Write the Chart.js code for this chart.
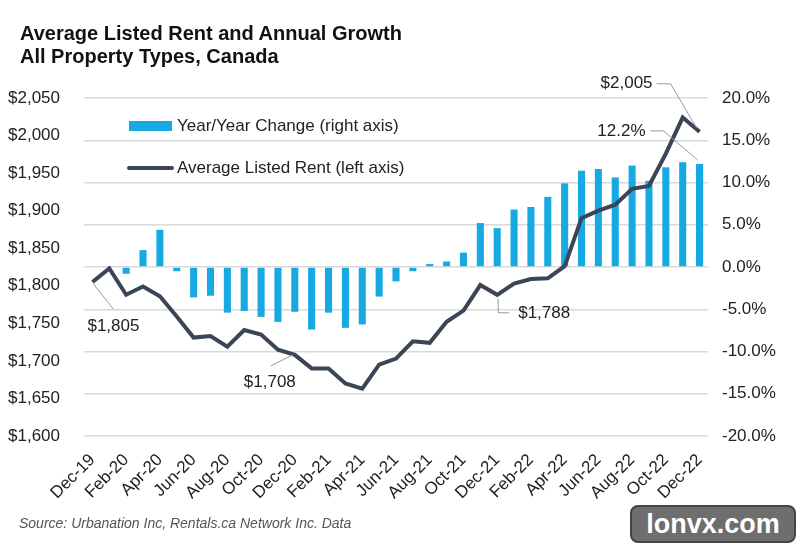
<!DOCTYPE html>
<html>
<head>
<meta charset="utf-8">
<script src="https://cdn.jsdelivr.net/npm/chart.js@4.4.0/dist/chart.umd.min.js"></script>
<style>
  html, body { margin: 0; padding: 0; background: #fff; }
  #wrap { position: relative; width: 800px; height: 546px; font-family: 'Liberation Sans', Arial, sans-serif; }
  #chart { position: absolute; left: 0; top: 0; }
  #title { position: absolute; left: 20px; top: 22px; font-size: 20px; font-weight: bold; line-height: 23px; color: #111; }
  #source { position: absolute; left: 19px; top: 515px; font-size: 14px; font-style: italic; color: #555; }
  #mark { position: absolute; left: 630px; top: 505px; width: 166px; height: 38px; background: #6e6e6e; border: 2px solid #444; border-radius: 8px;
          color: #fff; font: bold 27px 'Liberation Sans', Arial, sans-serif; text-align: center; line-height: 34px; box-sizing: border-box; }
</style>
</head>
<body>
<div id="wrap">
  <canvas id="chart" width="800" height="546"></canvas>
  <div id="title">Average Listed Rent and Annual Growth<br>All Property Types, Canada</div>
  <div id="source">Source: Urbanation Inc, Rentals.ca Network Inc. Data</div>
  <div id="mark">lonvx.com</div>
</div>
<script>
// months Dec-19 .. Dec-22
const months = ['Dec-19', 'Jan-20', 'Feb-20', 'Mar-20', 'Apr-20', 'May-20', 'Jun-20', 'Jul-20', 'Aug-20', 'Sep-20', 'Oct-20', 'Nov-20',
  'Dec-20', 'Jan-21', 'Feb-21', 'Mar-21', 'Apr-21', 'May-21', 'Jun-21', 'Jul-21', 'Aug-21', 'Sep-21', 'Oct-21', 'Nov-21',
  'Dec-21', 'Jan-22', 'Feb-22', 'Mar-22', 'Apr-22', 'May-22', 'Jun-22', 'Jul-22', 'Aug-22', 'Sep-22', 'Oct-22', 'Nov-22', 'Dec-22'];

// average listed rent, $ (left axis)
const rent = [1805, 1823, 1788, 1799, 1786, 1759, 1731, 1733, 1719, 1741, 1735, 1715,
  1708, 1690, 1690, 1670, 1663, 1695, 1703, 1726, 1724, 1752, 1767, 1801,
  1788, 1803, 1809, 1810, 1826, 1890, 1900, 1908, 1929, 1933, 1976, 2024, 2005];

// year/year change, % (right axis)
const yoy = [null, 0.1, -0.8, 2.0, 4.4, -0.5, -3.6, -3.4, -5.4, -5.2, -5.9, -6.5,
  -5.3, -7.4, -5.4, -7.2, -6.8, -3.5, -1.7, -0.5, 0.35, 0.65, 1.7, 5.2,
  4.6, 6.8, 7.1, 8.3, 9.9, 11.4, 11.6, 10.6, 12.0, 10.2, 11.8, 12.4, 12.2];

const rentTicks = { min: 1600, max: 2050, step: 50 };
const pctTicks = { min: -20, max: 20, step: 5 };

const BAR = '#17a9e1';
const LINE = '#3b4556';
const FONT = "'Liberation Sans', Arial, sans-serif";

const money = v => '$' + v.toLocaleString('en-US');

// callouts: [dataset, index, text]
const callouts = [
  ['rent', 0, money(rent[0])],
  ['rent', 12, money(rent[12])],
  ['rent', 24, money(rent[24])],
  ['rent', 36, money(rent[36])],
  ['yoy', 36, yoy[36].toFixed(1) + '%'],
];

const extras = {
  id: 'extras',
  afterDatasetsDraw(chart) {
    const { ctx, chartArea: a, scales } = chart;
    ctx.save();
    // legend
    ctx.font = '17px ' + FONT;
    ctx.textBaseline = 'middle';
    ctx.textAlign = 'left';
    const lx = a.left + 45, ly = a.top + 28;
    ctx.fillStyle = BAR;
    ctx.fillRect(lx, ly - 5, 43, 10);
    ctx.strokeStyle = LINE;
    ctx.lineWidth = 4;
    ctx.lineCap = 'round';
    ctx.beginPath();
    ctx.moveTo(lx, ly + 42);
    ctx.lineTo(lx + 43, ly + 42);
    ctx.stroke();
    ctx.fillStyle = '#222';
    ctx.fillText('Year/Year Change (right axis)', lx + 48, ly);
    ctx.fillText('Average Listed Rent (left axis)', lx + 48, ly + 42);

    // callouts
    ctx.strokeStyle = '#9a9a9a';
    ctx.lineWidth = 1;
    ctx.lineCap = 'butt';
    callouts.forEach(([ds, i, text]) => {
      const px = scales.x.getPixelForValue(i);
      const py = ds === 'rent' ? scales.y.getPixelForValue(rent[i]) : scales.y1.getPixelForValue(yoy[i]);
      let pts, tx, ty, align;
      if (ds === 'yoy') {
        pts = [[px - 49, py - 33], [px - 36, py - 33], [px - 2, py - 4]];
        tx = px - 54; ty = py - 33; align = 'right';
      } else if (i === 36) {
        pts = [[px - 43, py - 48], [px - 29, py - 48], [px - 3, py - 4]];
        tx = px - 47; ty = py - 48; align = 'right';
      } else if (i === 0) {
        pts = [[px + 1, py + 2], [px + 21, py + 27]];
        tx = px - 5; ty = py + 44; align = 'left';
      } else if (i === 12) {
        pts = [[px - 24, py + 11], [px - 2, py]];
        tx = px - 51; ty = py + 27; align = 'left';
      } else {
        pts = [[px + 1, py + 4], [px + 1, py + 18], [px + 12, py + 18]];
        tx = px + 21; ty = py + 19; align = 'left';
      }
      ctx.beginPath();
      pts.forEach(([x, y], k) => k ? ctx.lineTo(x, y) : ctx.moveTo(x, y));
      ctx.stroke();
      ctx.textAlign = align;
      ctx.fillText(text, tx, ty);
    });
    ctx.restore();
  }
};

new Chart(document.getElementById('chart'), {
  data: {
    labels: months,
    datasets: [
      { type: 'line', label: 'Average Listed Rent (left axis)', data: rent, yAxisID: 'y', borderColor: LINE, borderWidth: 4,
        pointRadius: 0, tension: 0, order: 1 },
      { type: 'bar', label: 'Year/Year Change (right axis)', data: yoy, yAxisID: 'y1', backgroundColor: BAR,
        barPercentage: 0.42, categoryPercentage: 1, order: 2 },
    ]
  },
  options: {
    responsive: false,
    animation: false,
    layout: { padding: { top: 98, left: 0, right: 0, bottom: 0 } },
    plugins: { legend: { display: false }, tooltip: { enabled: false } },
    scales: {
      x: {
        offset: true,
        grid: { display: false },
        border: { display: false },
        ticks: {
          autoSkip: false, minRotation: 45, maxRotation: 45, padding: 6,
          color: '#222', font: { family: FONT, size: 17 },
          callback: (v, i) => i % 2 === 0 ? months[i] : ''
        },
        afterFit: s => { s.height = 110; }
      },
      y: {
        position: 'left',
        min: rentTicks.min, max: rentTicks.max,
        grid: { display: false },
        border: { display: false },
        ticks: { stepSize: rentTicks.step, padding: 16, color: '#222', font: { family: FONT, size: 17 }, callback: v => money(v) },
        afterFit: s => { s.width = 84; }
      },
      y1: {
        position: 'right',
        min: pctTicks.min, max: pctTicks.max,
        grid: { color: '#d9d9d9', lineWidth: 1.5, drawTicks: false },
        border: { display: false },
        ticks: { stepSize: pctTicks.step, padding: 14, color: '#222', font: { family: FONT, size: 17 }, callback: v => v.toFixed(1) + '%' },
        afterFit: s => { s.width = 92; }
      }
    }
  },
  plugins: [extras]
});
</script>
</body>
</html>
